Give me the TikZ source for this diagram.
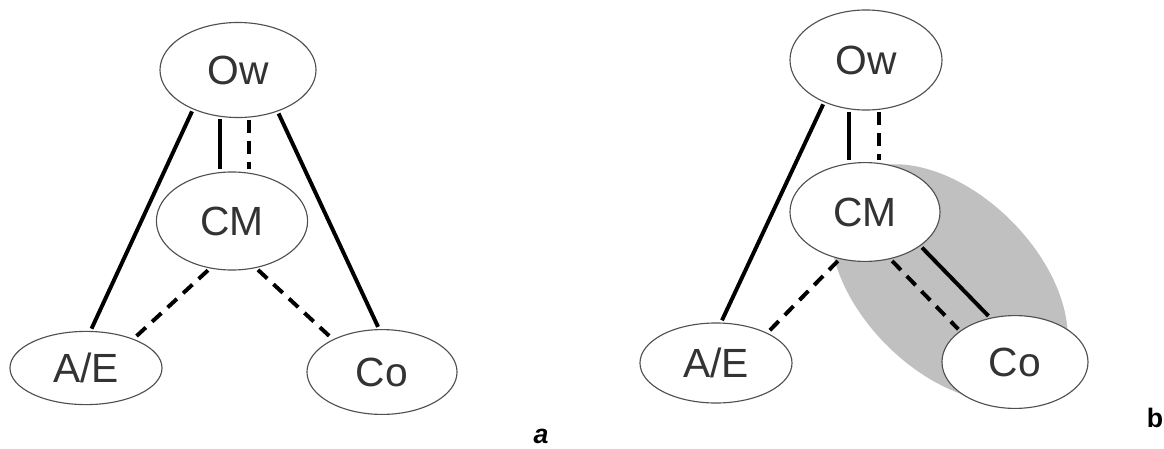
\documentclass[tikz,border=0pt]{standalone}
\usepackage{fontspec}
\setmainfont{Liberation Sans}
\usetikzlibrary{shapes.geometric}
\definecolor{texte}{HTML}{333333}
\definecolor{bord}{HTML}{505050}
\definecolor{zone}{HTML}{C0C0C0}

\tikzstyle{acteur}=[draw=bord, ellipse, fill=white, inner sep = 0pt, outer sep = 2pt, line width = 0.8pt, text=texte, font=\fontsize{29}{31}\selectfont]
\tikzstyle{lien}=[line width = 2.8pt, black]
\tikzstyle{pointille}=[lien, dash pattern=on 9pt off 6pt]

\begin{document}
\begin{tikzpicture}[
        x=0.025cm, y=-0.025cm,
        legende/.style={font=\fontsize{19}{21}\selectfont\bfseries}
    ]
    \useasboundingbox (0,0) rectangle (1164,448);

    \fill[ zone, rotate around={-45:(949,283)}] (949,283) ellipse [x radius=143, y radius=88];

    \node[ acteur, minimum width=3.9cm, minimum height=2.375cm] (OwA) at (238,70) {Ow};
    \node[ acteur, minimum width=3.78cm, minimum height=2.45cm] (CMA) at (232,221) {CM};
    \node[ acteur, minimum width=3.8cm, minimum height=1.83cm] (AEA) at (86,368) {A/E};
    \node[ acteur, minimum width=3.75cm, minimum height=2.12cm] (CoA) at (382,372) {Co};
    \node[ legende, font=\fontsize{19}{21}\selectfont\bfseries\itshape] (a) at (541,436) {a};

    \draw[ lien] (OwA.222) -- (AEA.82);
    \draw[ lien] (OwA.250) -- (OwA.250 |- CMA.north);
    \draw[ pointille] (OwA.282) -- (OwA.282 |- CMA.north);
    \draw[ lien] (OwA.313) -- (CoA.95);
    \draw[ pointille] (CMA.244) -- (AEA.32);
    \draw[ pointille] (CMA.298) -- (CoA.146);

    \node[ acteur, minimum width=3.8cm, minimum height=2.5cm] (OwB) at (866,60) {Ow};
    \node[ acteur, minimum width=3.75cm, minimum height=2.47cm] (CMB) at (865,212) {CM};
    \node[ acteur, minimum width=3.8cm, minimum height=2cm] (AEB) at (716,363) {A/E};
    \node[ acteur, minimum width=3.65cm, minimum height=2.32cm] (CoB) at (1015,362) {Co};
    \node[ legende] (b) at (1155,418) {b};

    \draw[ lien] (OwB.226) -- (AEB.82);
    \draw[ lien] (OwB.252) -- (OwB.252 |- CMB.north);
    \draw[ pointille] (OwB.284) -- (OwB.284 |- CMB.north);
    \draw[ pointille] (CMB.241) -- (AEB.31);
    \draw[ pointille] (CMB.299) -- (CoB.150);
    \draw[ lien] (CMB.328) -- (CoB.120);

\end{tikzpicture}
\end{document}
